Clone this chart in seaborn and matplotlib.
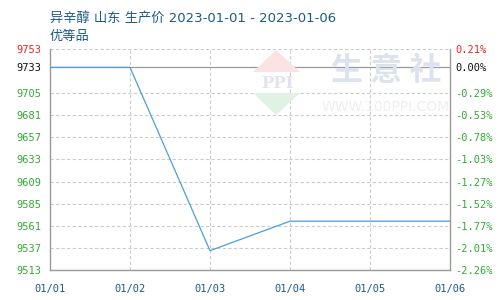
import matplotlib
matplotlib.use("Agg")
import matplotlib.pyplot as plt
from matplotlib.patches import Polygon
import seaborn as sns
import pandas as pd

dates = ["01/01", "01/02", "01/03", "01/04", "01/05", "01/06"]
prices = [9733, 9733, 9534, 9566, 9566, 9566]
left_ticks = [9753, 9733, 9705, 9681, 9657, 9633, 9609, 9585, 9561, 9537, 9513]
right_labels = ["0.21%", "0.00%", "-0.29%", "-0.53%", "-0.78%", "-1.03%",
                "-1.27%", "-1.52%", "-1.77%", "-2.01%", "-2.26%"]
title_line1 = "异辛醇 山东 生产价 2023-01-01 - 2023-01-06"
title_line2 = "优等品"

sns.set_theme(style="white")
plt.rcParams['font.family'] = ['Noto Sans CJK SC', 'DejaVu Sans']

df = pd.DataFrame({"x": range(len(dates)), "price": prices})

W, H = 500, 300
fig = plt.figure(figsize=(5, 3), dpi=100)
ax = fig.add_axes([0.1, 0.1, 0.8, 0.7367])

def fp(x, y):
    return (x / W, 1 - y / H)

# watermark (faint)
fig.patches.append(Polygon([fp(253, 72), fp(276, 50), fp(300, 72)], closed=True,
                           transform=fig.transFigure, facecolor="#fbe3e3", edgecolor="none", zorder=0))
fig.patches.append(Polygon([fp(253, 93), fp(300, 93), fp(276, 115)], closed=True,
                           transform=fig.transFigure, facecolor="#e0f2e3", edgecolor="none", zorder=0))
fig.text(*fp(277, 84), "PPI", fontsize=12, color="#dfe4ee", ha="center", va="center",
         family="DejaVu Serif", fontweight="bold", zorder=0)
fig.text(*fp(386, 71), "生 意 社", fontsize=23, color="#dde3ee", ha="center", va="center",
         fontweight="bold", zorder=0)
fig.text(*fp(386, 107), "WWW.100PPI.COM", fontsize=10, color="#efefef", ha="center", va="center",
         family="DejaVu Sans", zorder=0)

sns.lineplot(data=df, x="x", y="price", ax=ax, color="#4a9ede", linewidth=0.9, zorder=3)
ax.patch.set_alpha(0)

ax.set_xlim(0, len(dates) - 1)
ax.set_ylim(left_ticks[-1], left_ticks[0])
ax.set_xticks(range(len(dates)))
ax.set_xticklabels(dates)
ax.set_yticks(left_ticks)
ax.set_yticklabels([str(t) for t in left_ticks])
ax.set_xlabel("")
ax.set_ylabel("")

mono = "DejaVu Sans Mono"
for lbl in ax.get_xticklabels():
    lbl.set_family(mono); lbl.set_fontsize(7.5); lbl.set_color("#1a5a8a")
for i, lbl in enumerate(ax.get_yticklabels()):
    lbl.set_family(mono); lbl.set_fontsize(7.5)
    lbl.set_color("#ee2222" if i == 0 else ("#111111" if i == 1 else "#33aa33"))
ax.tick_params(axis="both", length=0, pad=6)
ax.tick_params(axis="x", pad=10)

for t in left_ticks[2:]:
    ax.axhline(t, color="#cccccc", linestyle=(0, (3, 2)), linewidth=0.8, zorder=1)
ax.axhline(left_ticks[0], color="#cccccc", linestyle=(0, (3, 2)), linewidth=0.8, zorder=1)
for x in range(1, len(dates) - 1):
    ax.axvline(x, color="#cccccc", linestyle=(0, (3, 2)), linewidth=0.8, zorder=1)
ax.axhline(left_ticks[1], color="#999999", linewidth=0.9, zorder=2)

for side in ["left", "right", "bottom"]:
    ax.spines[side].set_color("#999999")
    ax.spines[side].set_linewidth(1.0)
ax.spines["top"].set_visible(False)

ax2 = ax.twinx()
ax2.set_ylim(ax.get_ylim())
ax2.set_yticks(left_ticks)
ax2.set_yticklabels(right_labels)
for i, lbl in enumerate(ax2.get_yticklabels()):
    lbl.set_family(mono); lbl.set_fontsize(7.5)
    lbl.set_color("#ee2222" if i == 0 else ("#111111" if i == 1 else "#33aa33"))
ax2.tick_params(axis="y", length=0, pad=4)
for s in ax2.spines.values():
    s.set_visible(False)
ax2.grid(False)

fig.text(0.1, 0.94, title_line1, fontsize=9.5, color="#1a5a8a", ha="left", va="center",
         family=['DejaVu Sans', 'Noto Sans CJK SC'])
fig.text(0.1, 0.877, title_line2, fontsize=9.5, color="#1a5a8a", ha="left", va="center",
         family=['Noto Sans CJK SC', 'DejaVu Sans'])

fig.savefig("out.png", dpi=100)
